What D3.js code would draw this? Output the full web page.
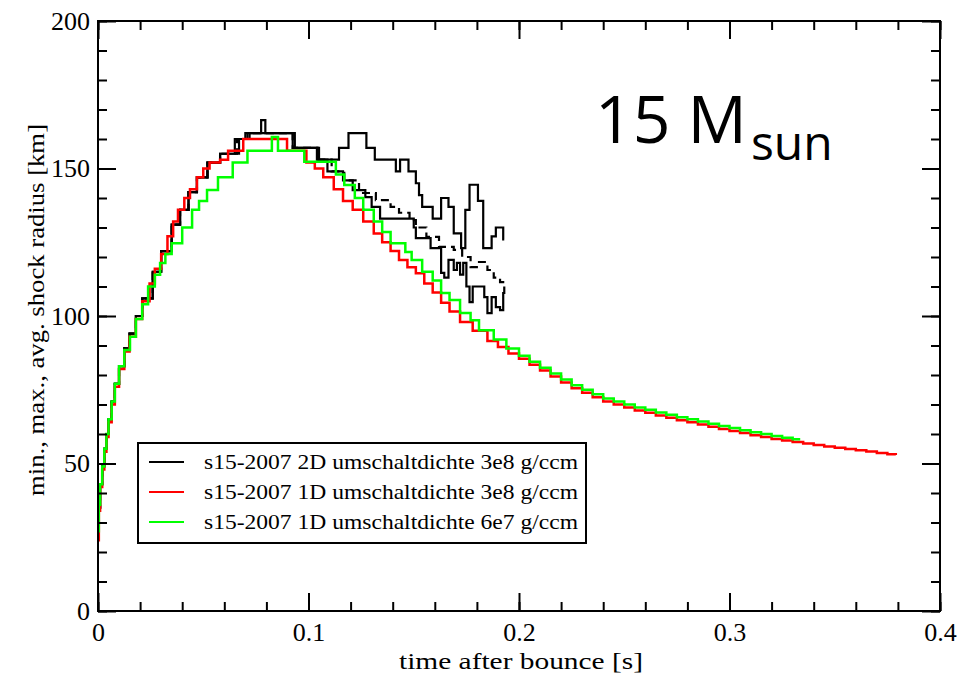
<!DOCTYPE html>
<html>
<head>
<meta charset="utf-8">
<script src="https://cdn.jsdelivr.net/npm/d3@7"></script>
<style>
  body { margin: 0; background: #fff; }
  svg { display: block; }
</style>
</head>
<body>
<div id="chart"></div>
<script>
// ---- data (t in s, radius in km) ----
var xTicks = [0, 0.1, 0.2, 0.3, 0.4];
var yTicks = [0, 50, 100, 150, 200];
var legendLabels = [
        "s15-2007 2D umschaltdichte 3e8 g/ccm",
        "s15-2007 1D umschaltdichte 3e8 g/ccm",
        "s15-2007 1D umschaltdichte 6e7 g/ccm"
];

// 1D, switch density 3e8 (red)
var red1D = [[0,24],[0.0004,34],[0.001,42],[0.002,48],[0.003,54],[0.004,59],[0.005,64],[0.0065,70],[0.008,76],
        [0.010,82],[0.0125,88],[0.015,93],[0.018,99],[0.021,105],[0.0245,111],[0.027,116],[0.030,121],[0.033,127],
        [0.0357,132],[0.038,136],[0.041,140],[0.0437,143],[0.047,147],[0.050,150],[0.053,152],[0.058,153],[0.0618,156],
        [0.069,160],[0.088,160],[0.0898,156],[0.099,152],[0.103,150],[0.107,147],[0.112,143],[0.1164,139],[0.121,136],
        [0.126,132],[0.131,128],[0.135,125],[0.139,122],[0.143,119],[0.147,116.5],[0.151,114.5],[0.155,111],[0.159,108],
        [0.163,104.5],[0.167,101.5],[0.172,98],[0.178,95],[0.185,91.5],[0.19,89.5],[0.195,87.3],[0.2,85.5],[0.205,83.5],
        [0.21,81.5],[0.215,79.5],[0.22,77.5],[0.225,75.5],[0.23,74],[0.235,72.5],[0.24,71],[0.245,70],[0.25,69],
        [0.255,68],[0.26,67.2],[0.265,66.3],[0.27,65.5],[0.275,64.7],[0.28,64],[0.285,63.2],[0.29,62.5],[0.295,61.7],
        [0.30,61],[0.305,60.3],[0.31,59.6],[0.315,59],[0.32,58.3],[0.325,57.8],[0.33,57.3],[0.335,56.8],[0.34,56.3],
        [0.345,55.8],[0.35,55.3],[0.355,54.9],[0.36,54.5],[0.365,54.1],[0.37,53.6],[0.375,53.1],[0.379,52.9]];

// 1D, switch density 6e7 (green)
var green1D = [[0,27],[0.0004,36],[0.001,43],[0.002,49],[0.003,55],[0.004,60],[0.005,65],[0.0065,71],[0.008,77],
        [0.010,83],[0.0125,88.5],[0.0152,93],[0.018,99],[0.021,104],[0.0238,110],[0.027,114],[0.0295,118],[0.032,121],
        [0.035,124.7],[0.040,130],[0.0447,136],[0.048,139],[0.0518,142.7],[0.057,147],[0.064,152],[0.071,156],
        [0.0817,156],[0.0826,160.7],[0.0855,156],[0.098,152.3],[0.113,148],[0.117,144.4],[0.122,140],[0.126,136],
        [0.131,132],[0.135,128.5],[0.139,124.7],[0.146,121.7],[0.149,119],[0.154,115],[0.159,112],[0.163,107.8],
        [0.167,105.4],[0.172,101],[0.177,98.6],[0.181,95.2],[0.188,92],[0.194,89],[0.2,86.5],[0.205,84.5],[0.21,82.5],
        [0.215,80.5],[0.22,78.5],[0.225,76.5],[0.23,75],[0.235,73.5],[0.24,72],[0.245,71],[0.25,70],[0.255,69],
        [0.26,68.2],[0.265,67.3],[0.27,66.5],[0.275,65.7],[0.28,65],[0.285,64.2],[0.29,63.5],[0.295,62.7],[0.30,62],
        [0.305,61.3],[0.31,60.6],[0.315,60],[0.32,59.3],[0.325,58.7],[0.33,58.2],[0.333,57.8]];

// 2D run (black): early part is the same for min, max and avg
var early2D = [[0,25],[0.0004,35],[0.001,43],[0.002,49],[0.003,55],[0.004,60],[0.005,65],[0.0065,71],[0.008,77],
        [0.010,83],[0.0125,89],[0.015,94],[0.018,100],[0.021,106],[0.026,115],[0.030,122],[0.035,131],[0.039,136],
        [0.043,142],[0.047,147],[0.052,152],[0.058,155]];
var max2D = [[0.065,160],[0.070,162],[0.0775,166.4],[0.0795,162],[0.0935,157],[0.105,153],[0.1145,157],[0.119,162],
        [0.1275,157],[0.1315,153],[0.1415,149],[0.1435,153],[0.1475,149],[0.151,145],[0.1525,141],[0.154,137],
        [0.159,133],[0.163,140],[0.1665,137],[0.169,128],[0.1725,123],[0.1745,136],[0.1765,144.5],[0.1805,139],
        [0.183,123],[0.187,127],[0.189,130],[0.1925,126],[0.193,126]];
var avg2D = [[0.066,160],[0.071,162],[0.0925,157],[0.1045,153],[0.111,149],[0.117,146],[0.124,141.7],[0.132,139.3],
        [0.139,137],[0.143,135],[0.148,132.5],[0.151,130],[0.156,126.8],[0.162,123.4],[0.169,122.4],[0.173,120],
        [0.177,116.6],[0.181,118.3],[0.185,115.6],[0.188,113],[0.191,111.5],[0.193,111.5]];
var min2D = [[0.067,160],[0.072,162],[0.0925,157],[0.104,153],[0.109,149],[0.1164,146],[0.121,142.7],[0.127,140.3],
        [0.130,137],[0.134,133],[0.150,130],[0.151,126.4],[0.158,123],[0.163,114.6],[0.1645,113],[0.1665,119],
        [0.169,115.6],[0.1705,118],[0.172,114],[0.1735,118],[0.175,110],[0.1765,104.7],[0.178,110],[0.1835,106.4],
        [0.185,101],[0.187,106.4],[0.189,103],[0.191,102],[0.1925,107.8],[0.193,110]];

// ---- layout ----
var W = 961, H = 680;
var plot = { left: 98, right: 940, top: 21, bottom: 611 };
var serif = "'Liberation Serif', 'Times New Roman', serif";

var svg = d3.select('#chart').append('svg')
        .attr('width', W)
        .attr('height', H)
        .attr('style', 'background-color:white');

var x = d3.scaleLinear().domain([0, 0.4]).range([plot.left, plot.right]);
var y = d3.scaleLinear().domain([0, 200]).range([plot.bottom, plot.top]);

var xMinor = d3.range(0, 0.4001, 0.02);
var yMinor = d3.range(0, 200.01, 10);

svg.append('defs').append('clipPath').attr('id', 'plotclip')
        .append('rect')
        .attr('x', plot.left).attr('y', plot.top)
        .attr('width', plot.right - plot.left).attr('height', plot.bottom - plot.top);

// curves
var line = d3.line()
        .x(function (d) { return x(d[0]); })
        .y(function (d) { return y(d[1]); })
        .curve(d3.curveStepAfter);

var curves = svg.append('g').attr('clip-path', 'url(#plotclip)');

curves.append('path').datum(early2D.concat(max2D))
        .attr('fill', 'none').attr('stroke', '#000').attr('stroke-width', 2.2).attr('d', line);
curves.append('path').datum(early2D.concat(min2D))
        .attr('fill', 'none').attr('stroke', '#000').attr('stroke-width', 2.2).attr('d', line);
curves.append('path').datum(early2D.concat(avg2D))
        .attr('fill', 'none').attr('stroke', '#000').attr('stroke-width', 2.2)
        .attr('stroke-dasharray', '8,5').attr('d', line);
curves.append('path').datum(red1D)
        .attr('fill', 'none').attr('stroke', '#ff0000').attr('stroke-width', 2.5).attr('d', line);
curves.append('path').datum(green1D)
        .attr('fill', 'none').attr('stroke', '#00ff00').attr('stroke-width', 2.5).attr('d', line);

// axes: ticks point inward on all four sides
function styleAxis(g) {
        g.selectAll('.domain').remove();
        g.selectAll('line').attr('stroke', '#000').attr('stroke-width', 2);
        g.selectAll('text').attr('font-family', serif).attr('font-size', 26).attr('fill', '#000');
}

svg.append('g').attr('transform', 'translate(0,' + plot.bottom + ')')
        .call(d3.axisBottom(x).tickValues(xMinor).tickSize(-9).tickFormat(''))
        .call(styleAxis);
svg.append('g').attr('transform', 'translate(0,' + plot.bottom + ')')
        .call(d3.axisBottom(x).tickValues(xTicks).tickSize(-18).tickPadding(12).tickFormat(d3.format('')))
        .call(styleAxis);
svg.append('g').attr('transform', 'translate(0,' + plot.top + ')')
        .call(d3.axisTop(x).tickValues(xMinor).tickSize(-9).tickFormat(''))
        .call(styleAxis);
svg.append('g').attr('transform', 'translate(0,' + plot.top + ')')
        .call(d3.axisTop(x).tickValues(xTicks).tickSize(-18).tickFormat(''))
        .call(styleAxis);
svg.append('g').attr('transform', 'translate(' + plot.left + ',0)')
        .call(d3.axisLeft(y).tickValues(yMinor).tickSize(-9).tickFormat(''))
        .call(styleAxis);
svg.append('g').attr('transform', 'translate(' + plot.left + ',0)')
        .call(d3.axisLeft(y).tickValues(yTicks).tickSize(-18).tickPadding(8).tickFormat(d3.format('')))
        .call(styleAxis);
svg.append('g').attr('transform', 'translate(' + plot.right + ',0)')
        .call(d3.axisRight(y).tickValues(yMinor).tickSize(-9).tickFormat(''))
        .call(styleAxis);
svg.append('g').attr('transform', 'translate(' + plot.right + ',0)')
        .call(d3.axisRight(y).tickValues(yTicks).tickSize(-18).tickFormat(''))
        .call(styleAxis);

// frame
svg.append('rect')
        .attr('x', plot.left).attr('y', plot.top)
        .attr('width', plot.right - plot.left).attr('height', plot.bottom - plot.top)
        .attr('fill', 'none').attr('stroke', '#000').attr('stroke-width', 2);

// axis titles
svg.append('text')
        .attr('x', 521).attr('y', 669)
        .attr('text-anchor', 'middle')
        .attr('font-family', serif).attr('font-size', 24)
        .attr('textLength', 244).attr('lengthAdjust', 'spacingAndGlyphs')
        .text('time after bounce [s]');
svg.append('text')
        .attr('transform', 'translate(44,310) rotate(-90)')
        .attr('text-anchor', 'middle')
        .attr('font-family', serif).attr('font-size', 24)
        .attr('textLength', 372).attr('lengthAdjust', 'spacingAndGlyphs')
        .text('min., max., avg. shock radius [km]');

// 15 M_sun annotation
var note = svg.append('text')
        .attr('x', 595).attr('y', 143)
        .attr('font-family', "'Open Sans', 'Noto Sans', sans-serif")
        .attr('font-size', 66).attr('fill', '#000');
note.append('tspan').text('15 M');
note.append('tspan').attr('font-size', 48).attr('dy', 17).attr('dx', 4).text('sun');

// legend
var legendColors = ['#000', '#ff0000', '#00ff00'];
var legend = svg.append('g');
legend.append('rect')
        .attr('x', 138).attr('y', 443).attr('width', 448).attr('height', 100)
        .attr('fill', '#fff').attr('stroke', '#000').attr('stroke-width', 2);
legend.selectAll('line.key').data(legendLabels).enter().append('line')
        .attr('x1', 149).attr('x2', 184)
        .attr('y1', function (d, i) { return 462 + i * 30; })
        .attr('y2', function (d, i) { return 462 + i * 30; })
        .attr('stroke', function (d, i) { return legendColors[i]; })
        .attr('stroke-width', 2);
legend.selectAll('text').data(legendLabels).enter().append('text')
        .attr('x', 204)
        .attr('y', function (d, i) { return 469 + i * 30; })
        .attr('font-family', serif).attr('font-size', 21)
        .attr('textLength', 374).attr('lengthAdjust', 'spacingAndGlyphs')
        .text(function (d) { return d; });
</script>
</body>
</html>
